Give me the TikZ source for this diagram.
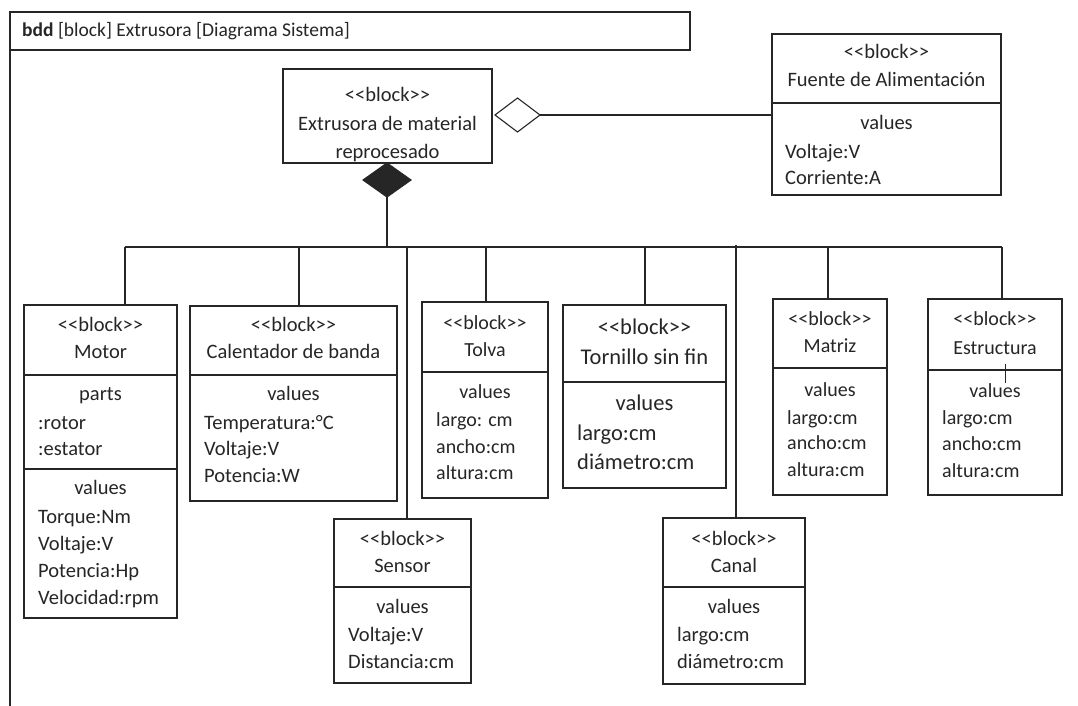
\documentclass[tikz,border=0pt]{standalone}
\usepackage{fontspec}
\setmainfont{Carlito}[Ligatures=TeXOff]
\usetikzlibrary{shapes.geometric}
\definecolor{ink}{HTML}{262626}
\begin{document}
\begin{tikzpicture}[x=1pt,y=-1pt,
  ln/.style={draw=ink, line width=1.1pt},
  blk/.style={ln, rectangle, inner sep=0pt, outer sep=0pt, anchor=north west},
  ctxt/.style={inner sep=0pt, anchor=base, text=ink, font=\fontsize{20.5}{24}\selectfont},
  ltxt/.style={ctxt, anchor=base west},
  big/.style={font=\fontsize{22.5}{26}\selectfont},
  sml/.style={font=\fontsize{20}{24}\selectfont},
  dia/.style={ln, diamond, inner sep=0pt, outer sep=0pt}
]
\useasboundingbox (0,0) rectangle (1078,706);
\fill[white] (0,0) rectangle (1078,706);

% frame and header
\node[blk, minimum width=680pt, minimum height=38pt] (hdr) at (10,12) {};
\draw[ln] (10,50) -- (10,706);
\node[ltxt, font=\fontsize{19.5}{24}\selectfont] (hdrT) at (22,37) {\textbf{bdd} [block] Extrusora [Diagrama Sistema]};

% main block
\node[blk, minimum width=209pt, minimum height=94pt] (ext) at (283,69) {};
\node[ctxt] (extA) at (387.5,102) {<<block>>};
\node[ctxt] (extB) at (387.5,131) {Extrusora de material};
\node[ctxt] (extC) at (387.5,158) {reprocesado};

% power supply
\node[blk, minimum width=229pt, minimum height=161pt] (fue) at (772,34) {};
\draw[ln] (772,103) -- (1001,103);
\node[ctxt] (fueA) at (886.5,59) {<<block>>};
\node[ctxt] (fueB) at (886.5,87) {Fuente de Alimentación};
\node[ctxt] (fueC) at (886.5,129) {values};
\node[ltxt] (fueD) at (785,158) {Voltaje:V};
\node[ltxt] (fueE) at (785,184) {Corriente:A};

% diamonds
\node[dia, fill=white, minimum width=45pt, minimum height=34pt] (agg) at (517.5,115) {};
\node[dia, fill=ink, minimum width=48pt, minimum height=34pt] (comp) at (387,180) {};
\draw[ln] (agg.east) -- (agg.east -| fue.west);

% bus
\coordinate (bus) at (387,247);
\coordinate (bL) at (125,247);
\coordinate (bR) at (1002,247);
\draw[ln] (comp.south) -- (bus);
\draw[ln] (bL) -- (bR);

% Motor
\node[blk, minimum width=153pt, minimum height=313pt] (mot) at (24,305) {};
\draw[ln] (24,375) -- (177,375);
\draw[ln] (24,469) -- (177,469);
\node[ctxt] (motA) at (100.5,331) {<<block>>};
\node[ctxt] (motB) at (100.5,358) {Motor};
\node[ctxt] (motC) at (100.5,400) {parts};
\node[ltxt] (motD) at (38,429) {:rotor};
\node[ltxt] (motE) at (38,455) {:estator};
\node[ctxt] (motF) at (100.5,494) {values};
\node[ltxt] (motG) at (38,523) {Torque:Nm};
\node[ltxt] (motH) at (38,550) {Voltaje:V};
\node[ltxt] (motI) at (38,577) {Potencia:Hp};
\node[ltxt] (motJ) at (38,604) {Velocidad:rpm};
\draw[ln] (bL) -- (bL |- mot.north);

% Calentador
\node[blk, minimum width=207pt, minimum height=195pt] (cal) at (190,306) {};
\draw[ln] (190,375) -- (397,375);
\node[ctxt] (calA) at (293.5,331) {<<block>>};
\node[ctxt] (calB) at (293.5,358) {Calentador de banda};
\node[ctxt] (calC) at (293.5,400) {values};
\node[ltxt] (calD) at (204,429) {Temperatura:°C};
\node[ltxt] (calE) at (204,455) {Voltaje:V};
\node[ltxt] (calF) at (204,482) {Potencia:W};
\coordinate (bCal) at (299,247);
\draw[ln] (bCal) -- (bCal |- cal.north);

% Sensor
\node[blk, minimum width=137pt, minimum height=164pt] (sen) at (334,519) {};
\draw[ln] (334,587) -- (471,587);
\node[ctxt] (senA) at (402.5,545) {<<block>>};
\node[ctxt] (senB) at (402.5,572) {Sensor};
\node[ctxt] (senC) at (402.5,613) {values};
\node[ltxt] (senD) at (348,641) {Voltaje:V};
\node[ltxt] (senE) at (348,668) {Distancia:cm};
\coordinate (bSen) at (407,247);
\draw[ln] (bSen) -- (bSen |- sen.north);

% Tolva
\node[blk, minimum width=126pt, minimum height=196pt] (tol) at (422,302) {};
\draw[ln] (422,372) -- (548,372);
\node[ctxt, sml] (tolA) at (485,329) {<<block>>};
\node[ctxt, sml] (tolB) at (485,356) {Tolva};
\node[ctxt, sml] (tolC) at (485,398) {values};
\node[ltxt, sml] (tolD) at (436,426) {largo: cm};
\node[ltxt, sml] (tolE) at (436,453) {ancho:cm};
\node[ltxt, sml] (tolF) at (436,479) {altura:cm};
\coordinate (bTol) at (486,247);
\draw[ln] (bTol) -- (bTol |- tol.north);

% Tornillo
\node[blk, minimum width=163pt, minimum height=183pt] (tor) at (563,305) {};
\draw[ln] (563,382) -- (726,382);
\node[ctxt, big] (torA) at (644.5,334) {<<block>>};
\node[ctxt, big] (torB) at (644.5,364) {Tornillo sin fin};
\node[ctxt, big] (torC) at (644.5,410) {values};
\node[ltxt, big] (torD) at (577,440) {largo:cm};
\node[ltxt, big] (torE) at (577,469) {diámetro:cm};
\coordinate (bTor) at (645,247);
\draw[ln] (bTor) -- (bTor |- tor.north);

% Canal
\node[blk, minimum width=142pt, minimum height=166pt] (can) at (663,518) {};
\draw[ln] (663,587) -- (805,587);
\node[ctxt] (canA) at (734,545) {<<block>>};
\node[ctxt] (canB) at (734,572) {Canal};
\node[ctxt] (canC) at (734,613) {values};
\node[ltxt] (canD) at (677,641) {largo:cm};
\node[ltxt] (canE) at (677,668) {diámetro:cm};
\coordinate (bCan) at (736,245);
\draw[ln] (bCan) -- (bCan |- can.north);

% Matriz
\node[blk, minimum width=114pt, minimum height=196pt] (mat) at (773,299) {};
\draw[ln] (773,368) -- (887,368);
\node[ctxt, sml] (matA) at (830,325) {<<block>>};
\node[ctxt, sml] (matB) at (830,352) {Matriz};
\node[ctxt, sml] (matC) at (830,396) {values};
\node[ltxt, sml] (matD) at (787,424) {largo:cm};
\node[ltxt, sml] (matE) at (787,449) {ancho:cm};
\node[ltxt, sml] (matF) at (787,476) {altura:cm};
\coordinate (bMat) at (828,247);
\draw[ln] (bMat) -- (bMat |- mat.north);

% Estructura
\node[blk, minimum width=134pt, minimum height=196pt] (est) at (928,299) {};
\draw[ln] (928,370) -- (1062,370);
\node[ctxt, sml] (estA) at (995,325) {<<block>>};
\node[ctxt, sml] (estB) at (995,354) {Estructura};
\node[ctxt, sml] (estC) at (995,397) {values};
\node[ltxt, sml] (estD) at (942,424) {largo:cm};
\node[ltxt, sml] (estE) at (942,450) {ancho:cm};
\node[ltxt, sml] (estF) at (942,477) {altura:cm};
\draw[ln, line width=0.9pt] (1005,364) -- (1005,383);
\draw[ln] (bR) -- (bR |- est.north);

\end{tikzpicture}
\end{document}
